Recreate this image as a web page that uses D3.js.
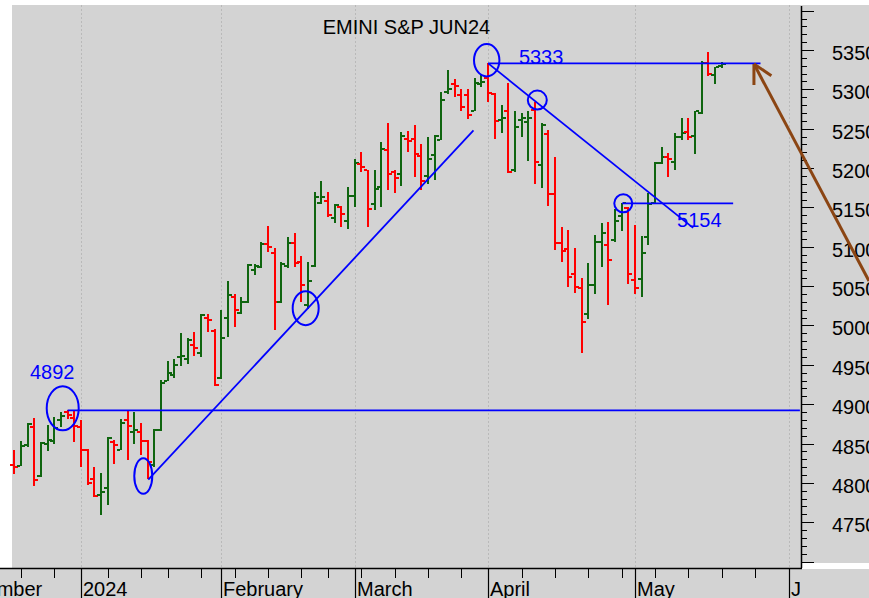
<!DOCTYPE html>
<html><head><meta charset="utf-8">
<script src="https://cdn.jsdelivr.net/npm/d3@7"></script>
<style>
body{margin:0;background:#fff}
svg{display:block;font-family:"Liberation Sans",Arial,sans-serif}
</style>
</head><body>
<svg id="chart" width="869" height="598"></svg>
<script>
// ---------------- DATA ----------------
const title = "EMINI S&P JUN24";
const leadDays = ["2023-12-01","2023-12-04","2023-12-05","2023-12-06","2023-12-07","2023-12-08","2023-12-11","2023-12-12","2023-12-13","2023-12-14"];
const dates = ["2023-12-15","2023-12-18","2023-12-19","2023-12-20","2023-12-21","2023-12-22","2023-12-26","2023-12-27","2023-12-28","2023-12-29",
"2024-01-02","2024-01-03","2024-01-04","2024-01-05","2024-01-08","2024-01-09","2024-01-10","2024-01-11","2024-01-12","2024-01-16","2024-01-17","2024-01-18","2024-01-19","2024-01-22","2024-01-23","2024-01-24","2024-01-25","2024-01-26","2024-01-29","2024-01-30","2024-01-31",
"2024-02-01","2024-02-02","2024-02-05","2024-02-06","2024-02-07","2024-02-08","2024-02-09","2024-02-12","2024-02-13","2024-02-14","2024-02-15","2024-02-16","2024-02-20","2024-02-21","2024-02-22","2024-02-23","2024-02-26","2024-02-27","2024-02-28","2024-02-29",
"2024-03-01","2024-03-04","2024-03-05","2024-03-06","2024-03-07","2024-03-08","2024-03-11","2024-03-12","2024-03-13","2024-03-14","2024-03-15","2024-03-18","2024-03-19","2024-03-20","2024-03-21","2024-03-22","2024-03-25","2024-03-26","2024-03-27","2024-03-28",
"2024-04-01","2024-04-02","2024-04-03","2024-04-04","2024-04-05","2024-04-08","2024-04-09","2024-04-10","2024-04-11","2024-04-12","2024-04-15","2024-04-16","2024-04-17","2024-04-18","2024-04-19","2024-04-22","2024-04-23","2024-04-24","2024-04-25","2024-04-26","2024-04-29","2024-04-30",
"2024-05-01","2024-05-02","2024-05-03","2024-05-06","2024-05-07","2024-05-08","2024-05-09","2024-05-10","2024-05-13","2024-05-14","2024-05-15","2024-05-16","2024-05-17","2024-05-20"];
const futureDays = ["2024-05-21","2024-05-22","2024-05-23","2024-05-24","2024-05-27","2024-05-28","2024-05-29","2024-05-30","2024-05-31","2024-06-03","2024-06-04"];

const openP = [4823,4821,4848,4871,4809,4849,4853,4880,4890,4882,
4871,4842,4805,4784,4793,4852,4842,4880,4864,4865,4853,4823,4867,4930,4937,4960,4957,4975,4965,5010,4993,
4933,5009,5036,5016,5030,5071,5074,5103,5092,5030,5075,5105,5081,5026,5076,5156,5158,5137,5150,5133,
5165,5205,5197,5154,5176,5223,5195,5192,5237,5237,5215,5190,5216,5236,5296,5307,5293,5293,5273,5307,
5314,5294,5261,5272,5198,5261,5259,5274,5204,5243,5167,5105,5097,5065,5047,5015,5051,5106,5102,5108,5139,5149,
5058,5059,5112,5156,5207,5214,5208,5240,5246,5241,5270,5333,5318,5330];
const highP = [4842,4853,4876,4883,4852,4873,4884,4890,4893,4891,
4880,4843,4820,4813,4858,4855,4881,4892,4890,4876,4854,4869,4931,4955,4958,4990,4984,4992,5014,5014,4995,
5020,5056,5040,5036,5078,5078,5106,5127,5099,5081,5112,5118,5088,5080,5170,5184,5170,5154,5152,5176,
5212,5221,5198,5198,5233,5257,5198,5246,5247,5255,5230,5240,5242,5297,5324,5313,5301,5301,5314,5320,
5333,5295,5280,5308,5272,5270,5272,5284,5257,5248,5214,5125,5121,5098,5060,5079,5115,5130,5131,5148,5156,5151,
5128,5114,5168,5208,5227,5219,5244,5263,5263,5272,5336,5348,5329,5335];
const lowP = [4812,4821,4846,4797,4808,4840,4850,4871,4882,4852,
4820,4797,4782,4759,4772,4824,4841,4829,4849,4835,4804,4821,4866,4930,4934,4948,4951,4962,4959,4991,4923,
4932,4985,4998,5014,5029,5064,5073,5094,4995,5029,5073,5075,5029,5020,5075,5155,5138,5130,5125,5123,
5151,5195,5126,5147,5151,5172,5169,5177,5220,5189,5171,5180,5185,5236,5294,5290,5273,5263,5272,5303,
5283,5236,5245,5194,5194,5239,5209,5180,5175,5152,5096,5081,5049,5041,4965,5008,5040,5074,5025,5106,5121,5053,
5040,5037,5102,5154,5205,5189,5197,5235,5235,5217,5269,5318,5307,5328];
const closeP = [4820,4847,4875,4803,4851,4854,4870,4885,4886,4872,
4842,4800,4783,4788,4857,4848,4876,4872,4867,4853,4826,4867,4927,4939,4950,4961,4981,4971,5013,5007,4924,
4984,5039,5020,5030,5077,5075,5104,5100,5030,5078,5105,5079,5051,5056,5163,5163,5140,5153,5142,5165,
5207,5201,5148,5173,5224,5192,5187,5241,5235,5218,5184,5212,5241,5286,5301,5304,5278,5267,5308,5309,
5295,5260,5263,5195,5252,5263,5263,5208,5255,5167,5105,5094,5062,5049,5005,5051,5106,5117,5083,5133,5155,5066,
5047,5092,5154,5207,5214,5212,5240,5245,5239,5272,5334,5320,5328,5332];

const monthNames = ["2024","February","March","April","May","June","July","August","September","October","November","December"];
const yTickValues = [4750,4800,4850,4900,4950,5000,5050,5100,5150,5200,5250,5300,5350];

// annotations in data space: [bar index, price]
const hLines = [
  {from:[8,4892], to:[117.7,4892]},
  {from:[71,5333], to:[111.8,5333]},
  {from:[91.05,5155], to:[107.7,5155]}
];
const trendLines = [
  {from:[20.08,4804], to:[68.8,5248]},
  {from:[71,5333], to:[101.7,5124]}
];
const ellipses = [
  {at:[7.26,4894.7], rx:16, ry:22},
  {at:[19.33,4808.7], rx:9, ry:17.8},
  {at:[43.66,5022], rx:13, ry:17},
  {at:[70.78,5337], rx:12.7, ry:16.2},
  {at:[78.36,5286.4], rx:9.5, ry:9.5},
  {at:[91.24,5155.2], rx:9, ry:9}
];
const labels = [
  {at:[2.36,4932], text:"4892"},
  {at:[75.6,5332], text:"5333"},
  {at:[99.3,5125], text:"5154"}
];
const arrow = {from:[128.05,5056.5], tip:[110.82,5332.2]};

// ---------------- CHART ----------------
const W = 869, H = 598;
const plot = {l:12, r:801, t:5, b:568};
const svg = d3.select("#chart");

const x = d3.scaleLinear().domain([0, 116]).range([14.25, 788.55]);
const y = d3.scaleLinear().domain([4750, 5350]).range([522.2, 50]);

const allDays = leadDays.concat(dates, futureDays);
const dayIndex = d => allDays.indexOf(d) - leadDays.length;

const BG = "#d3d3d3";
svg.append("rect").attr("width", W).attr("height", H).attr("fill", BG);
// white margins
svg.append("rect").attr("x",0).attr("y",0).attr("width",W).attr("height",plot.t).attr("fill","#fff");
svg.append("rect").attr("x",0).attr("y",0).attr("width",plot.l).attr("height",plot.b).attr("fill","#fff");
svg.append("rect").attr("x",plot.r+1).attr("y",563).attr("width",W-plot.r).attr("height",6).attr("fill","#fff");

// month & week ticks
const parse = d3.timeParse("%Y-%m-%d");
const monthStarts = [], weekStarts = [];
allDays.forEach((d,i) => {
  const cur = parse(d);
  const prev = i>0 ? parse(allDays[i-1]) : null;
  if (!prev || prev.getMonth() !== cur.getMonth()) monthStarts.push(d);
  else if (d3.timeMonday.floor(prev).getTime() !== d3.timeMonday.floor(cur).getTime()) weekStarts.push(d);
});

// dotted vertical gridlines
svg.append("g").selectAll("line").data(monthStarts).join("line")
  .attr("x1", d => Math.round(x(dayIndex(d)))+0.5).attr("x2", d => Math.round(x(dayIndex(d)))+0.5)
  .attr("y1", plot.t).attr("y2", plot.b)
  .attr("stroke", "#b9b9b9").attr("stroke-width", 1).attr("stroke-dasharray", "2,2");

// bottom axis
const bx = svg.append("g");
bx.append("line").attr("x1",0).attr("x2",plot.r+1).attr("y1",plot.b+0.5).attr("y2",plot.b+0.5)
  .attr("stroke","#000").attr("stroke-width",1.5);
bx.selectAll("line.wk").data(weekStarts).join("line").attr("class","wk")
  .attr("x1", d => Math.round(x(dayIndex(d)))+0.5).attr("x2", d => Math.round(x(dayIndex(d)))+0.5)
  .attr("y1", plot.b).attr("y2", plot.b+10).attr("stroke","#000").attr("stroke-width",1);
bx.selectAll("line.mo").data(monthStarts).join("line").attr("class","mo")
  .attr("x1", d => Math.round(x(dayIndex(d)))+0.5).attr("x2", d => Math.round(x(dayIndex(d)))+0.5)
  .attr("y1", plot.b).attr("y2", H).attr("stroke","#000").attr("stroke-width",1.2);
svg.append("clipPath").attr("id","bclip").append("rect").attr("x",0).attr("y",plot.b).attr("width",plot.r-1).attr("height",H-plot.b);
bx.append("g").attr("clip-path","url(#bclip)").selectAll("text").data(monthStarts).join("text")
  .attr("x", d => Math.round(x(dayIndex(d)))+2).attr("y", 596)
  .attr("font-size", 20).attr("fill","#000")
  .text(d => monthNames[parse(d).getMonth()]);

// right axis
const ry = svg.append("g");
ry.append("line").attr("x1",plot.r+0.5).attr("x2",plot.r+0.5).attr("y1",plot.t+1).attr("y2",plot.b)
  .attr("stroke","#000").attr("stroke-width",1.5);
const minorVals = d3.range(4700, 5401, 10);
ry.selectAll("line.t").data(minorVals).join("line").attr("class","t")
  .attr("x1", plot.r).attr("x2", v => plot.r + (v % 50 === 0 ? 13 : 6))
  .attr("y1", v => Math.round(y(v))+0.5).attr("y2", v => Math.round(y(v))+0.5)
  .attr("stroke","#000").attr("stroke-width",1);
ry.selectAll("text").data(yTickValues).join("text")
  .attr("x", 832).attr("y", v => y(v)+10)
  .attr("font-size", 20).attr("fill","#000").text(v => v);

// OHLC bars
const GREEN = "#0f650f", RED = "#ff0000";
const bars = svg.append("g").attr("shape-rendering","crispEdges");
dates.forEach((d,i) => {
  const cx = Math.round(x(i));
  const col = closeP[i] >= openP[i] ? GREEN : RED;
  bars.append("rect").attr("x", cx-1).attr("width", 2)
    .attr("y", Math.round(y(highP[i]))).attr("height", Math.max(2, Math.round(y(lowP[i]) - y(highP[i]))))
    .attr("fill", col);
  bars.append("rect").attr("x", cx-4).attr("width", 3)
    .attr("y", Math.round(y(openP[i]))-1).attr("height", 2).attr("fill", col);
  bars.append("rect").attr("x", cx+1).attr("width", 3)
    .attr("y", Math.round(y(closeP[i]))-1).attr("height", 2).attr("fill", col);
});

// title
svg.append("text").attr("x", 322.7).attr("y", 34).attr("font-size", 20).attr("fill","#000").text(title);

// annotations
const BLUE = "#0000ff";
const ann = svg.append("g");
hLines.concat(trendLines).forEach(l => {
  ann.append("line")
    .attr("x1", x(l.from[0])).attr("y1", y(l.from[1]))
    .attr("x2", x(l.to[0])).attr("y2", y(l.to[1]))
    .attr("stroke", BLUE).attr("stroke-width", 1.8);
});
ellipses.forEach(e => {
  ann.append("ellipse").attr("cx", x(e.at[0])).attr("cy", y(e.at[1]))
    .attr("rx", e.rx).attr("ry", e.ry)
    .attr("fill","none").attr("stroke", BLUE).attr("stroke-width", 2);
});
labels.forEach(t => {
  ann.append("text").attr("x", x(t.at[0])).attr("y", y(t.at[1]))
    .attr("font-size", 20).attr("fill", BLUE).text(t.text);
});

// brown arrow
const BROWN = "#8b4513";
const ax0 = x(arrow.from[0]), ay0 = y(arrow.from[1]);
const ax1 = x(arrow.tip[0]), ay1 = y(arrow.tip[1]);
ann.append("line").attr("x1", ax0).attr("y1", ay0).attr("x2", ax1).attr("y2", ay1)
  .attr("stroke", BROWN).attr("stroke-width", 3);
const ang = Math.atan2(ay0 - ay1, ax0 - ax1);
[-0.49, 0.49].forEach(da => {
  ann.append("line").attr("x1", ax1).attr("y1", ay1)
    .attr("x2", ax1 + 21*Math.cos(ang+da)).attr("y2", ay1 + 21*Math.sin(ang+da))
    .attr("stroke", BROWN).attr("stroke-width", 3).attr("stroke-linecap","butt");
});
</script>
</body></html>
